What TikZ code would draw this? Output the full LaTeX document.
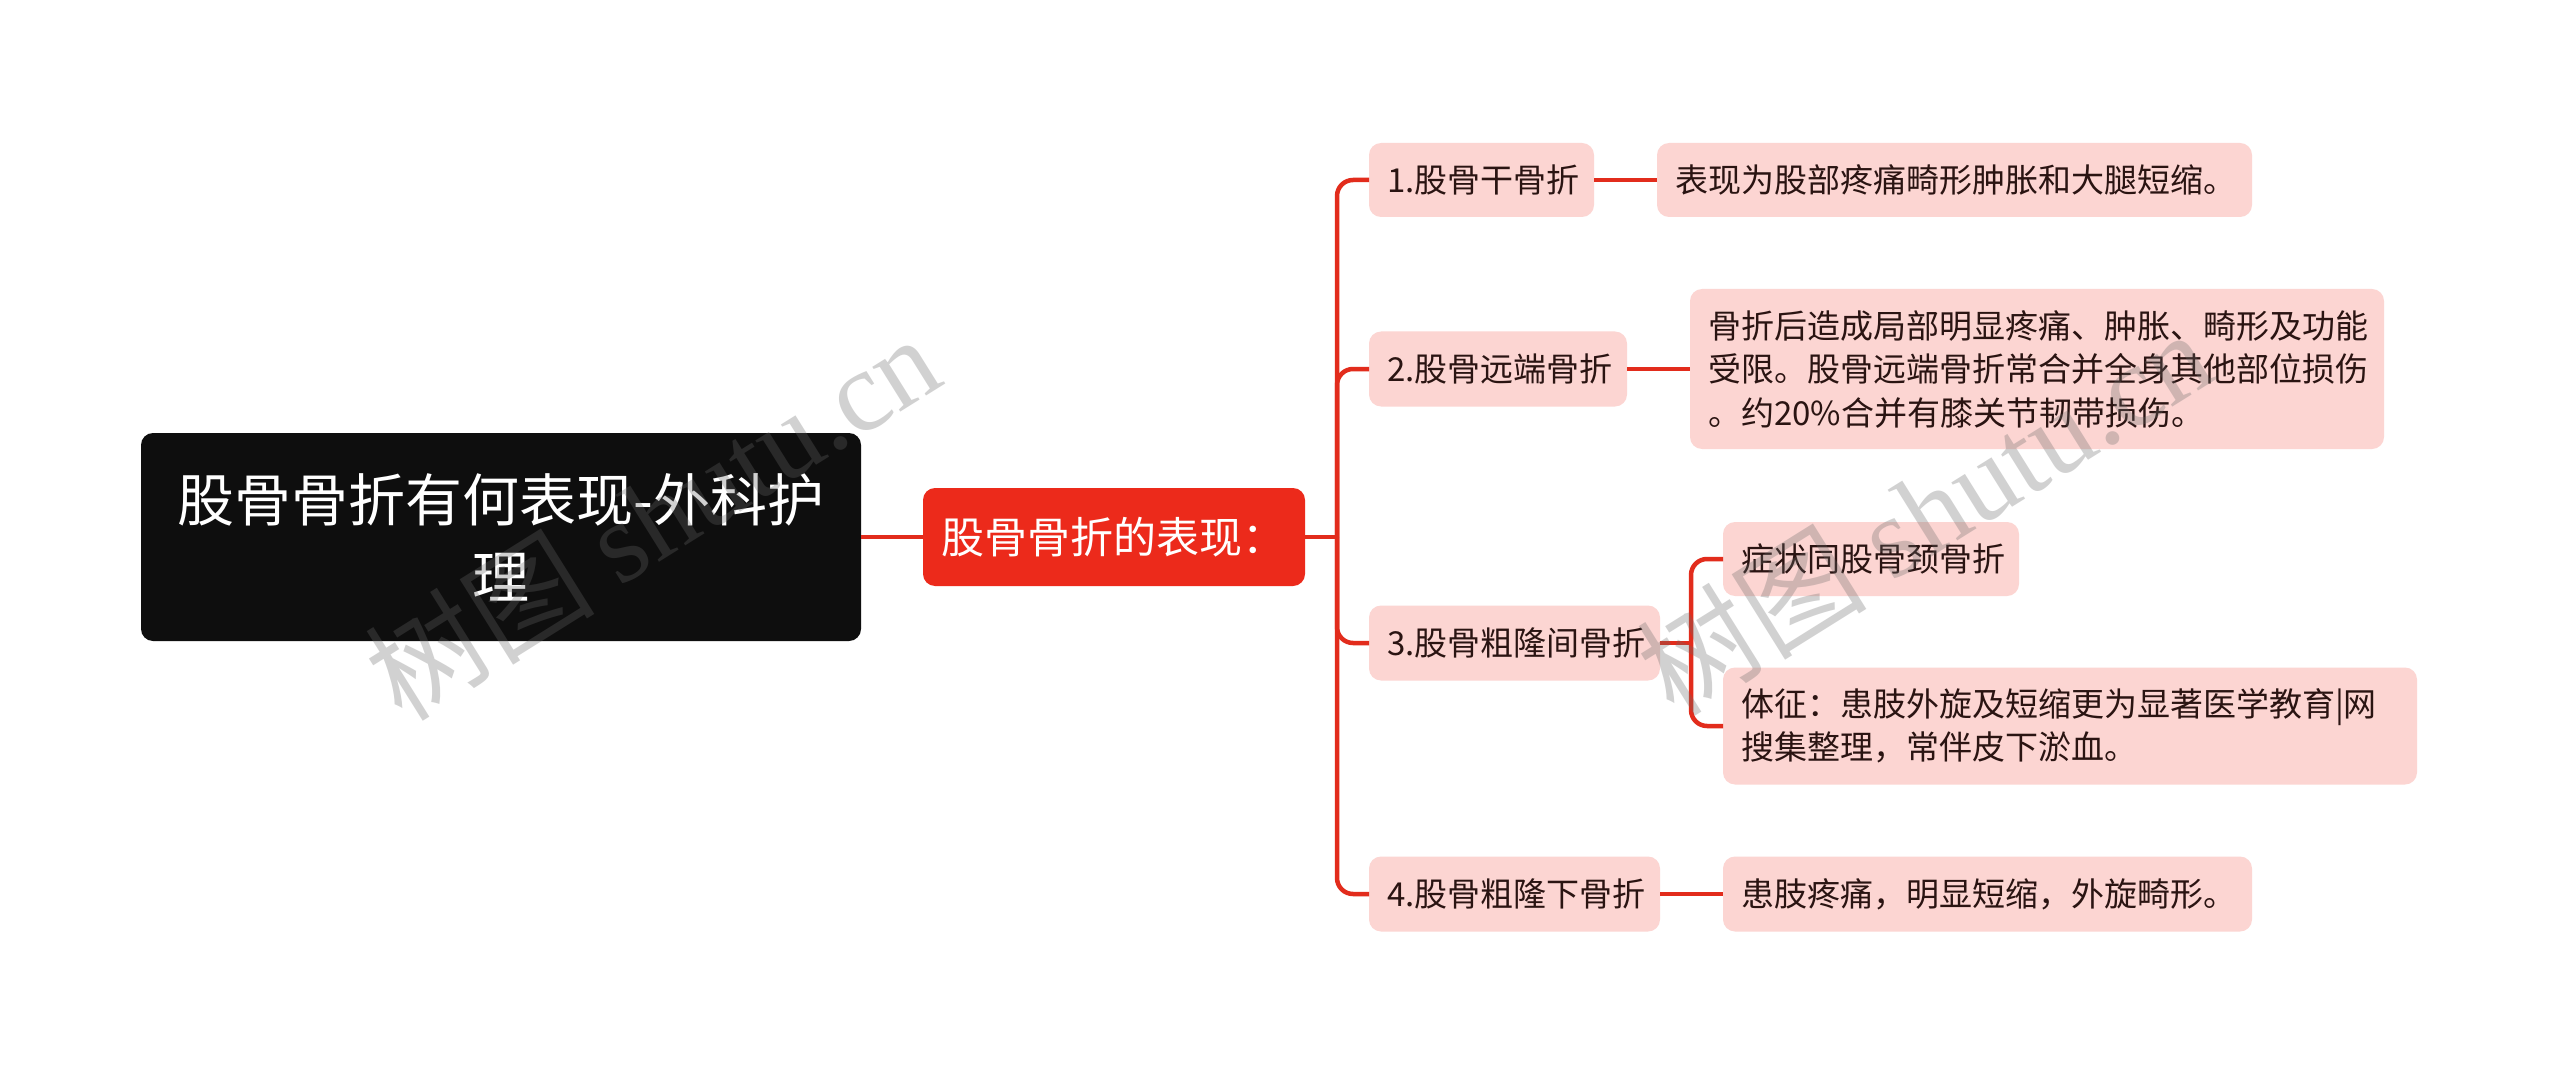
\documentclass[tikz,border=0pt]{standalone}
\usepackage{fontspec}
\newfontfamily\cjk{Noto Sans CJK SC}
\newfontfamily\wmserif{Liberation Serif}
\definecolor{rootc}{HTML}{0E0E0E}
\definecolor{mainc}{HTML}{EC2A1B}
\definecolor{pinkc}{HTML}{FCD5D2}
\definecolor{linec}{HTML}{E22C1C}
\definecolor{txtc}{HTML}{2A1412}
\definecolor{wmc}{HTML}{686868}
\tikzset{
  boxbase/.style={rounded corners=12pt, inner ysep=0pt, outer sep=0pt},
  rootbox/.style={boxbase, fill=rootc, text=white, align=center, inner xsep=18pt,
    font=\cjk\fontsize{57}{77}\selectfont},
  mainbox/.style={boxbase, fill=mainc, text=white, align=left, inner xsep=18pt,
    font=\cjk\fontsize{43}{50}\selectfont},
  pinkbox/.style={boxbase, fill=pinkc, text=txtc, align=left, inner xsep=18pt,
    font=\cjk\fontsize{33}{43.5}\selectfont},
  conn/.style={draw=linec, line width=4.5pt, rounded corners=16pt},
  wmark/.style={text=wmc, opacity=0.3, rotate=32, inner sep=0pt}
}
\begin{document}
\begin{tikzpicture}[x=1pt,y=-1pt]
\fill[white] (0,0) rectangle (2560,1075);
\useasboundingbox (0,0) rectangle (2560,1075);

% nodes
\node[rootbox, text width=684pt, minimum height=208pt] (root) at (501,537)
  {股骨骨折有何表现-外科护\\理};
\node[mainbox, text width=346pt, minimum height=98pt] (main) at (1114,537)
  {股骨骨折的表现：};

\node[pinkbox, text width=189pt, minimum height=74pt] (n1) at (1481.5,180) {1.股骨干骨折};
\node[pinkbox, text width=222pt, minimum height=75pt] (n2) at (1498,369) {2.股骨远端骨折};
\node[pinkbox, text width=255pt, minimum height=75pt] (n3) at (1514.5,643) {3.股骨粗隆间骨折};
\node[pinkbox, text width=255pt, minimum height=75pt] (n4) at (1514.5,894) {4.股骨粗隆下骨折};

\node[pinkbox, text width=559pt, minimum height=74pt] (d1) at (1954.5,180)
  {表现为股部疼痛畸形肿胀和大腿短缩。};
\node[pinkbox, text width=658pt, minimum height=160pt] (d2) at (2037,369)
  {骨折后造成局部明显疼痛、肿胀、畸形及功能\\受限。股骨远端骨折常合并全身其他部位损伤\\。约20\%合并有膝关节韧带损伤。};
\node[pinkbox, text width=260pt, minimum height=74pt] (d3a) at (1871,559)
  {症状同股骨颈骨折};
\node[pinkbox, text width=658pt, minimum height=117pt] (d3b) at (2070,726)
  {体征：患肢外旋及短缩更为显著医学教育|网\\搜集整理，常伴皮下淤血。};
\node[pinkbox, text width=493pt, minimum height=75pt] (d4) at (1987.5,894)
  {患肢疼痛，明显短缩，外旋畸形。};

% junction points
\coordinate (j1) at (1337,537);
\coordinate (j3) at (1691,643);

% connectors
\draw[conn] (root.east) -- (main.west);
\draw[conn] (main.east) -- (j1);
\draw[conn] (j1) |- (n1.west);
\draw[conn] (j1) |- (n2.west);
\draw[conn] (j1) |- (n3.west);
\draw[conn] (j1) |- (n4.west);
\draw[conn] (n1.east) -- (d1.west);
\draw[conn] (n2.east) -- (n2.east -| d2.west);
\draw[conn] (n3.east) -- (j3);
\draw[conn] (j3) |- (d3a.west);
\draw[conn] (j3) |- (d3b.west);
\draw[conn] (n4.east) -- (d4.west);

% watermarks
\node[wmark] (wm1) at (652,516) {\cjk\fontsize{115}{115}\selectfont 树图 \wmserif shutu.cn};
\node[wmark] (wm2) at (1924,511) {\cjk\fontsize{115}{115}\selectfont 树图 \wmserif shutu.cn};
\end{tikzpicture}
\end{document}
